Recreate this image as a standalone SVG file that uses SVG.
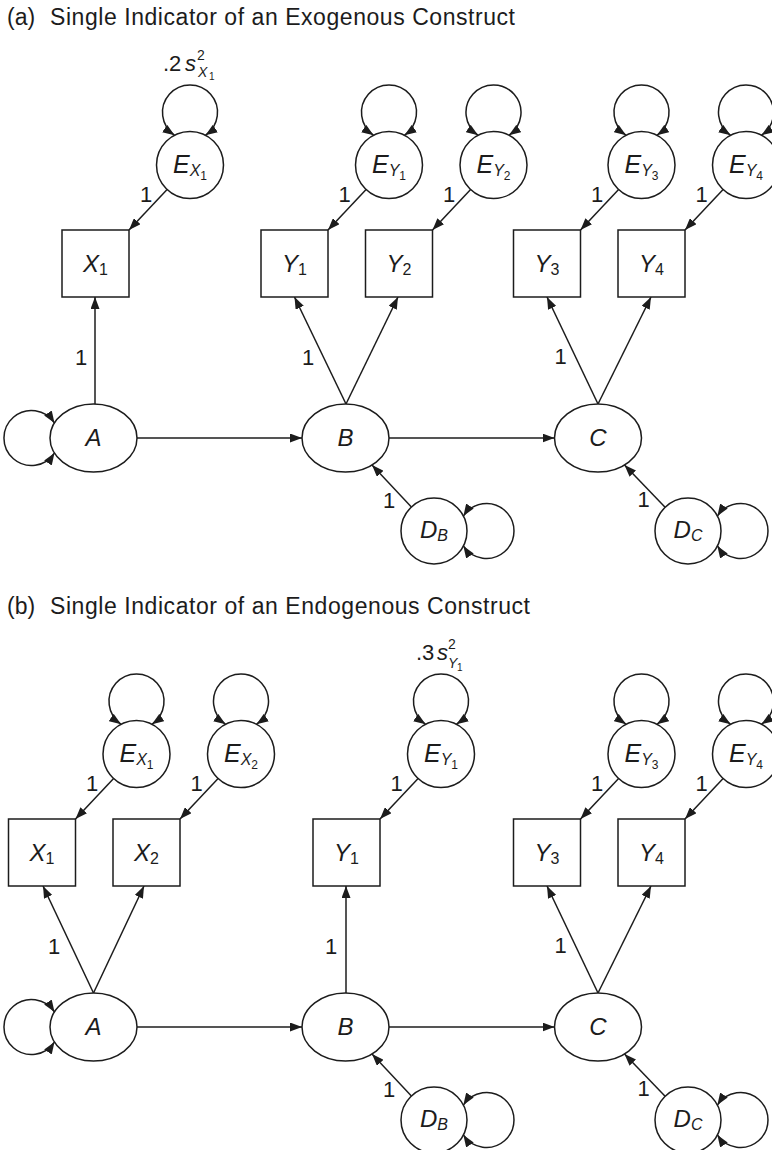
<svg xmlns="http://www.w3.org/2000/svg" width="772" height="1150" viewBox="0 0 772 1150">
  <defs>
    <marker id="arrow" markerWidth="12" markerHeight="9" refX="12" refY="4.5" orient="auto-start-reverse" markerUnits="userSpaceOnUse">
      <path d="M0,0 L12,4.5 L0,9 Z" fill="#1c1c1c"/>
    </marker>
    <style>
      text { font-family: "Liberation Sans", Arial, Helvetica, sans-serif; fill: #1c1c1c; }
      .title { font-size: 23px; }
      .shape { fill: #fff; stroke: #1c1c1c; stroke-width: 1.5; }
      .edge { fill: none; stroke: #1c1c1c; stroke-width: 1.5; marker-end: url(#arrow); }
      .loop { fill: none; stroke: #1c1c1c; stroke-width: 1.5; marker-start: url(#arrow); marker-end: url(#arrow); }
      .var { font-size: 24px; font-style: italic; text-anchor: middle; }
      .evar { font-size: 25px; font-style: italic; text-anchor: middle; }
      .one { font-size: 22px; text-anchor: middle; }
      .sub { font-size: 16px; font-style: normal; }
      .subi { font-size: 16px; font-style: italic; }
      .ssub { font-size: 12px; font-style: normal; }
      .vlab { font-size: 22px; }
    </style>
  </defs>

  <!-- panel titles -->
  <text class="title" x="7" y="25">(a)<tspan x="50" textLength="465" lengthAdjust="spacing">Single Indicator of an Exogenous Construct</tspan></text>
  <text class="title" x="7" y="614">(b)<tspan x="50" textLength="480" lengthAdjust="spacing">Single Indicator of an Endogenous Construct</tspan></text>

  <!-- variance labels -->
  <g id="var-a">
    <text class="vlab" x="163" y="71">.2</text>
    <text class="vlab" x="185" y="71" font-style="italic">s</text>
    <text x="197" y="60" font-size="14">2</text>
    <text x="198" y="77" font-size="14" font-style="italic">X</text>
    <text x="209" y="80" font-size="10">1</text>
  </g>
  <g id="var-b">
    <text class="vlab" x="416" y="660">.3</text>
    <text class="vlab" x="437" y="660" font-style="italic">s</text>
    <text x="448" y="649" font-size="14">2</text>
    <text x="448" y="668" font-size="14" font-style="italic">Y</text>
    <text x="457" y="671" font-size="10">1</text>
  </g>

  <g id="connectors">
    <!-- panel (a) -->
    <path class="loop" d="M205.42,135.26 A27.5,27.5 0 1 0 174.58,135.26"/>
    <path class="loop" d="M404.42,135.26 A27.5,27.5 0 1 0 373.58,135.26"/>
    <path class="loop" d="M508.92,135.26 A27.5,27.5 0 1 0 478.08,135.26"/>
    <path class="loop" d="M656.92,135.26 A27.5,27.5 0 1 0 626.08,135.26"/>
    <path class="loop" d="M761.42,135.26 A27.5,27.5 0 1 0 730.58,135.26"/>
    <path class="loop" d="M54.5,423 A27.5,27.5 0 1 0 54.5,453"/>
    <path class="loop" d="M463.4,516.05 A27.5,27.5 0 1 1 463.4,545.95"/>
    <path class="loop" d="M717.4,516.05 A27.5,27.5 0 1 1 717.4,545.95"/>

    <path class="edge" d="M167.1,189.4 L129,230"/>
    <path class="edge" d="M366.1,189.4 L328,230"/>
    <path class="edge" d="M470.6,189.4 L432.5,230"/>
    <path class="edge" d="M618.6,189.4 L580.5,230"/>
    <path class="edge" d="M723.1,189.4 L685,230"/>

    <path class="edge" d="M95,404 L95,297"/>
    <path class="edge" d="M346,404 L294.5,297"/>
    <path class="edge" d="M346,404 L398,297"/>
    <path class="edge" d="M598,404 L547,297"/>
    <path class="edge" d="M598,404 L651,297"/>

    <path class="edge" d="M137,438 L302,438"/>
    <path class="edge" d="M389,438 L554.5,438"/>
    <path class="edge" d="M411.4,506.9 L372,465"/>
    <path class="edge" d="M665.1,507.2 L624.5,465"/>

    <!-- panel (b) -->
    <path class="loop" d="M151.92,724.26 A27.5,27.5 0 1 0 121.08,724.26"/>
    <path class="loop" d="M256.42,724.26 A27.5,27.5 0 1 0 225.58,724.26"/>
    <path class="loop" d="M456.42,724.26 A27.5,27.5 0 1 0 425.58,724.26"/>
    <path class="loop" d="M656.92,724.26 A27.5,27.5 0 1 0 626.08,724.26"/>
    <path class="loop" d="M761.42,724.26 A27.5,27.5 0 1 0 730.58,724.26"/>
    <path class="loop" d="M54.5,1012 A27.5,27.5 0 1 0 54.5,1042"/>
    <path class="loop" d="M463.4,1105.05 A27.5,27.5 0 1 1 463.4,1134.95"/>
    <path class="loop" d="M717.4,1105.05 A27.5,27.5 0 1 1 717.4,1134.95"/>

    <path class="edge" d="M113.6,778.4 L75.5,819"/>
    <path class="edge" d="M218.1,778.4 L180,819"/>
    <path class="edge" d="M418.1,778.4 L380,819"/>
    <path class="edge" d="M618.6,778.4 L580.5,819"/>
    <path class="edge" d="M723.1,778.4 L685,819"/>

    <path class="edge" d="M93.5,993 L43,886"/>
    <path class="edge" d="M93.5,993 L144,886"/>
    <path class="edge" d="M346,993 L346,886"/>
    <path class="edge" d="M598,993 L547,886"/>
    <path class="edge" d="M598,993 L651,886"/>

    <path class="edge" d="M137,1027 L302,1027"/>
    <path class="edge" d="M389,1027 L554.5,1027"/>
    <path class="edge" d="M411.4,1095.9 L372,1054"/>
    <path class="edge" d="M665.1,1096.2 L624.5,1054"/>

    <!-- path coefficients -->
    <text class="one" x="146" y="202">1</text>
    <text class="one" x="344.5" y="202">1</text>
    <text class="one" x="449" y="202">1</text>
    <text class="one" x="597" y="202">1</text>
    <text class="one" x="701.5" y="202">1</text>
    <text class="one" x="81" y="365">1</text>
    <text class="one" x="308" y="365">1</text>
    <text class="one" x="560.5" y="364">1</text>
    <text class="one" x="389" y="508">1</text>
    <text class="one" x="643.5" y="507">1</text>

    <text class="one" x="92" y="791">1</text>
    <text class="one" x="196.5" y="791">1</text>
    <text class="one" x="396.5" y="791">1</text>
    <text class="one" x="597" y="791">1</text>
    <text class="one" x="701.5" y="791">1</text>
    <text class="one" x="54" y="954">1</text>
    <text class="one" x="331" y="954">1</text>
    <text class="one" x="560.5" y="953">1</text>
    <text class="one" x="389" y="1097">1</text>
    <text class="one" x="643.5" y="1096">1</text>
  </g>

  <!-- panel (a) nodes -->
  <g id="a-EX1"><circle class="shape" cx="190" cy="165" r="33.5"/><text class="evar" x="190" y="173">E<tspan class="subi" dy="3">X</tspan><tspan class="ssub" dy="4">1</tspan></text></g>
  <g id="a-EY1"><circle class="shape" cx="389" cy="165" r="33.5"/><text class="evar" x="389" y="173">E<tspan class="subi" dy="3">Y</tspan><tspan class="ssub" dy="4">1</tspan></text></g>
  <g id="a-EY2"><circle class="shape" cx="493.5" cy="165" r="33.5"/><text class="evar" x="493.5" y="173">E<tspan class="subi" dy="3">Y</tspan><tspan class="ssub" dy="4">2</tspan></text></g>
  <g id="a-EY3"><circle class="shape" cx="641.5" cy="165" r="33.5"/><text class="evar" x="641.5" y="173">E<tspan class="subi" dy="3">Y</tspan><tspan class="ssub" dy="4">3</tspan></text></g>
  <g id="a-EY4"><circle class="shape" cx="746" cy="165" r="33.5"/><text class="evar" x="746" y="173">E<tspan class="subi" dy="3">Y</tspan><tspan class="ssub" dy="4">4</tspan></text></g>

  <g id="a-X1"><rect class="shape" x="62" y="230" width="67" height="67"/><text class="var" x="95.5" y="272">X<tspan class="sub" dy="3">1</tspan></text></g>
  <g id="a-Y1"><rect class="shape" x="261" y="230" width="67" height="67"/><text class="var" x="294.5" y="272">Y<tspan class="sub" dy="3">1</tspan></text></g>
  <g id="a-Y2"><rect class="shape" x="365.5" y="230" width="67" height="67"/><text class="var" x="399" y="272">Y<tspan class="sub" dy="3">2</tspan></text></g>
  <g id="a-Y3"><rect class="shape" x="513.5" y="230" width="67" height="67"/><text class="var" x="547" y="272">Y<tspan class="sub" dy="3">3</tspan></text></g>
  <g id="a-Y4"><rect class="shape" x="618" y="230" width="67" height="67"/><text class="var" x="651.5" y="272">Y<tspan class="sub" dy="3">4</tspan></text></g>

  <g id="a-A"><ellipse class="shape" cx="93.5" cy="438" rx="43.5" ry="34"/><text class="var" x="93.5" y="446">A</text></g>
  <g id="a-B"><ellipse class="shape" cx="345.5" cy="438" rx="43.5" ry="34"/><text class="var" x="345.5" y="446">B</text></g>
  <g id="a-C"><ellipse class="shape" cx="598" cy="438" rx="43.5" ry="34"/><text class="var" x="598" y="446">C</text></g>

  <g id="a-DB"><circle class="shape" cx="434" cy="531" r="33"/><text class="var" x="434" y="538">D<tspan class="subi" dy="3">B</tspan></text></g>
  <g id="a-DC"><circle class="shape" cx="688" cy="531" r="33"/><text class="var" x="688" y="538">D<tspan class="subi" dy="3">C</tspan></text></g>

  <!-- panel (b) nodes -->
  <g id="b-EX1"><circle class="shape" cx="136.5" cy="754" r="33.5"/><text class="evar" x="136.5" y="762">E<tspan class="subi" dy="3">X</tspan><tspan class="ssub" dy="4">1</tspan></text></g>
  <g id="b-EX2"><circle class="shape" cx="241" cy="754" r="33.5"/><text class="evar" x="241" y="762">E<tspan class="subi" dy="3">X</tspan><tspan class="ssub" dy="4">2</tspan></text></g>
  <g id="b-EY1"><circle class="shape" cx="441" cy="754" r="33.5"/><text class="evar" x="441" y="762">E<tspan class="subi" dy="3">Y</tspan><tspan class="ssub" dy="4">1</tspan></text></g>
  <g id="b-EY3"><circle class="shape" cx="641.5" cy="754" r="33.5"/><text class="evar" x="641.5" y="762">E<tspan class="subi" dy="3">Y</tspan><tspan class="ssub" dy="4">3</tspan></text></g>
  <g id="b-EY4"><circle class="shape" cx="746" cy="754" r="33.5"/><text class="evar" x="746" y="762">E<tspan class="subi" dy="3">Y</tspan><tspan class="ssub" dy="4">4</tspan></text></g>

  <g id="b-X1"><rect class="shape" x="8.5" y="819" width="67" height="67"/><text class="var" x="42" y="861">X<tspan class="sub" dy="3">1</tspan></text></g>
  <g id="b-X2"><rect class="shape" x="113" y="819" width="67" height="67"/><text class="var" x="146.5" y="861">X<tspan class="sub" dy="3">2</tspan></text></g>
  <g id="b-Y1"><rect class="shape" x="313" y="819" width="67" height="67"/><text class="var" x="346.5" y="861">Y<tspan class="sub" dy="3">1</tspan></text></g>
  <g id="b-Y3"><rect class="shape" x="513.5" y="819" width="67" height="67"/><text class="var" x="547" y="861">Y<tspan class="sub" dy="3">3</tspan></text></g>
  <g id="b-Y4"><rect class="shape" x="618" y="819" width="67" height="67"/><text class="var" x="651.5" y="861">Y<tspan class="sub" dy="3">4</tspan></text></g>

  <g id="b-A"><ellipse class="shape" cx="93.5" cy="1027" rx="43.5" ry="34"/><text class="var" x="93.5" y="1035">A</text></g>
  <g id="b-B"><ellipse class="shape" cx="345.5" cy="1027" rx="43.5" ry="34"/><text class="var" x="345.5" y="1035">B</text></g>
  <g id="b-C"><ellipse class="shape" cx="598" cy="1027" rx="43.5" ry="34"/><text class="var" x="598" y="1035">C</text></g>

  <g id="b-DB"><circle class="shape" cx="434" cy="1120" r="33"/><text class="var" x="434" y="1127">D<tspan class="subi" dy="3">B</tspan></text></g>
  <g id="b-DC"><circle class="shape" cx="688" cy="1120" r="33"/><text class="var" x="688" y="1127">D<tspan class="subi" dy="3">C</tspan></text></g>
</svg>
